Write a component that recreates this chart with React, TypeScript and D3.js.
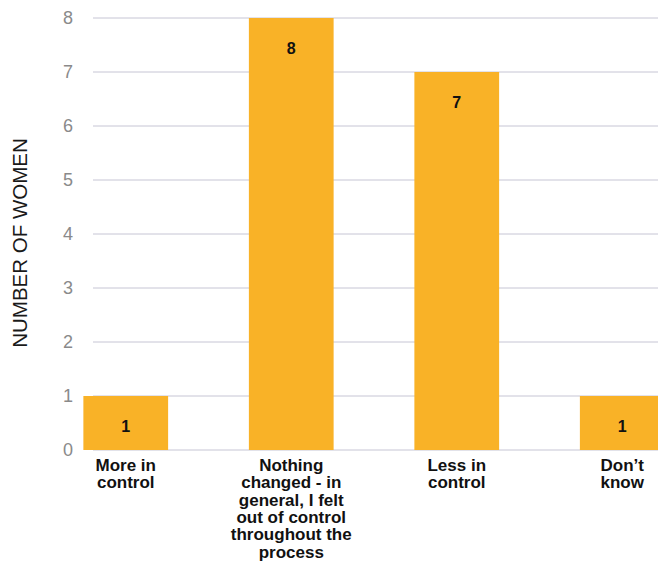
import React from "react";
import * as d3 from "d3";

// Survey responses: how in control women felt
const categories: string[][] = [
  ["More in", "control"],
  ["Nothing", "changed - in", "general, I felt", "out of control", "throughout the", "process"],
  ["Less in", "control"],
  ["Don’t", "know"],
];
const counts: number[] = [1, 8, 7, 1];
const yTicks: number[] = [0, 1, 2, 3, 4, 5, 6, 7, 8];
const yTitle = "NUMBER OF WOMEN";

const W = 658;
const H = 561;
const FONT = "'Liberation Sans', Arial, sans-serif";

export default function App() {
  const keys = categories.map((c) => c.join(" "));
  const x = d3
    .scaleBand<string>()
    .domain(keys)
    .range([42, 706])
    .paddingInner(0.488)
    .paddingOuter(0.25);
  const y = d3.scaleLinear().domain([0, 8]).range([450, 18]);

  return (
    <svg
      width={W}
      height={H}
      style={{ position: "absolute", left: 0, top: 0, background: "#fff" }}
      fontFamily={FONT}
    >
      {/* gridlines */}
      {yTicks.map((t) => (
        <line
          key={"g" + t}
          x1={93}
          x2={W}
          y1={y(t)}
          y2={y(t)}
          stroke="#c6c5d4"
          strokeWidth={1}
        />
      ))}
      {/* y tick labels */}
      {yTicks.map((t) => (
        <text
          key={"t" + t}
          x={68}
          y={y(t)}
          dy="0.36em"
          textAnchor="middle"
          fontSize={18}
          fill="#8a8a8a"
        >
          {t}
        </text>
      ))}
      {/* y axis title */}
      <text
        transform={`translate(20, 243) rotate(-90)`}
        textAnchor="middle"
        dy="0.36em"
        fontSize={20.5}
        fill="#1a1a1a"
      >
        {yTitle}
      </text>
      {/* bars */}
      {counts.map((v, i) => (
        <g key={"b" + i}>
          <rect
            x={x(keys[i])}
            y={y(v)}
            width={x.bandwidth()}
            height={y(0) - y(v)}
            fill="#f9b227"
          />
          <text
            x={(x(keys[i]) as number) + x.bandwidth() / 2}
            y={y(v) + 30}
            dy="0.36em"
            textAnchor="middle"
            fontSize={16}
            fontWeight="bold"
            fill="#111"
          >
            {v}
          </text>
        </g>
      ))}
      {/* category labels */}
      {categories.map((lines, i) => (
        <text
          key={"c" + i}
          x={(x(keys[i]) as number) + x.bandwidth() / 2}
          y={471}
          textAnchor="middle"
          fontSize={17}
          fontWeight="bold"
          fill="#111"
        >
          {lines.map((l, j) => (
            <tspan key={j} x={(x(keys[i]) as number) + x.bandwidth() / 2} dy={j === 0 ? 0 : 17.3}>
              {l}
            </tspan>
          ))}
        </text>
      ))}
    </svg>
  );
}
